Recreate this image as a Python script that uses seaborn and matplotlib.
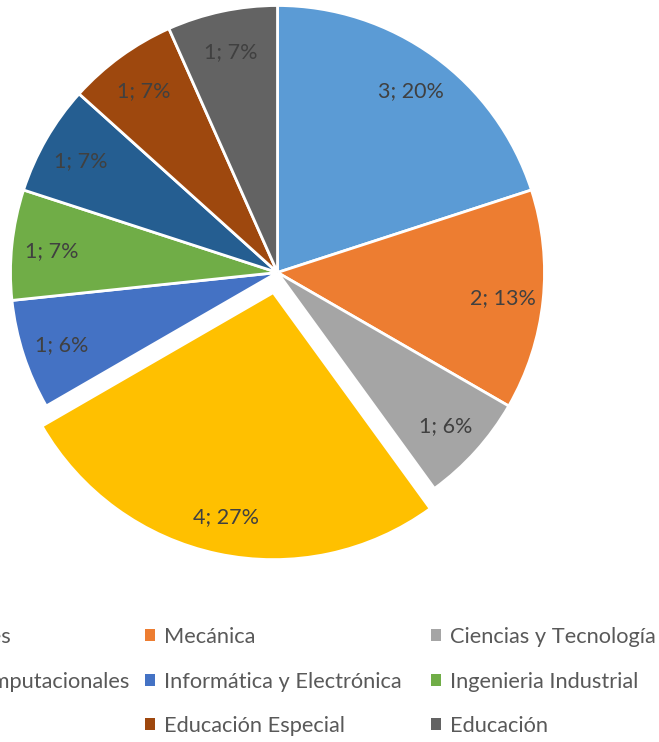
import matplotlib
matplotlib.use("Agg")
import matplotlib.pyplot as plt
from matplotlib.patches import Patch
import seaborn as sns

# Programme areas, number of projects and the displayed share of each
areas = ["Humanidades", "Mecánica", "Ciencias y Tecnología",
         "Ciencias Computacionales", "Informática y Electrónica", "Ingenieria Industrial",
         "Física", "Educación Especial", "Educación"]
counts = [3, 2, 1, 4, 1, 1, 1, 1, 1]
shares = ["20%", "13%", "6%", "27%", "6%", "7%", "7%", "7%", "7%"]

colors = ["#5B9BD5", "#ED7D31", "#A5A5A5", "#FFC000", "#4472C4",
          "#70AD47", "#255E91", "#9E480E", "#636363"]
explode = [0, 0, 0, 0.077, 0, 0, 0, 0, 0]

sns.set_theme(style="white")
plt.rcParams["font.family"] = ["Lato", "DejaVu Sans"]

W, H = 659, 742
fig = plt.figure(figsize=(W / 100, H / 100), dpi=100)
fig.patch.set_facecolor("white")

# pie centre and radius in pixels
cx, cy, r = 277.5, 272.5, 267
ax = fig.add_axes([(cx - r) / W, (H - cy - r) / H, 2 * r / W, 2 * r / H])

labels = [f"{c}; {s}" for c, s in zip(counts, shares)]
wedges, texts = ax.pie(
    counts, colors=colors, explode=explode, startangle=90, counterclock=False,
    labels=labels, labeldistance=0.85,
    wedgeprops=dict(edgecolor="white", linewidth=2, clip_on=False),
    textprops=dict(ha="center", va="center_baseline", color="#404040", fontsize=15.5),
)
ax.set_xlim(-1, 1)
ax.set_ylim(-1, 1)
ax.set_aspect("equal")
ax.axis("off")

# legend laid out row by row in three columns
col_x = [-138.5, 145, 431]
row_y = [637, 682, 726]
for k, (name, col) in enumerate(zip(areas, colors)):
    i, j = divmod(k, 3)
    fig.legend(
        handles=[Patch(facecolor=col, edgecolor="none")], labels=[name],
        loc="center left", bbox_to_anchor=(col_x[j] / W, 1 - row_y[i] / H),
        bbox_transform=fig.transFigure, frameon=False, borderpad=0,
        borderaxespad=0, handlelength=0.45, handleheight=0.45,
        handletextpad=0.4, fontsize=15.7, labelcolor="#595959",
    )

fig.savefig("out.png", dpi=100, facecolor="white")
